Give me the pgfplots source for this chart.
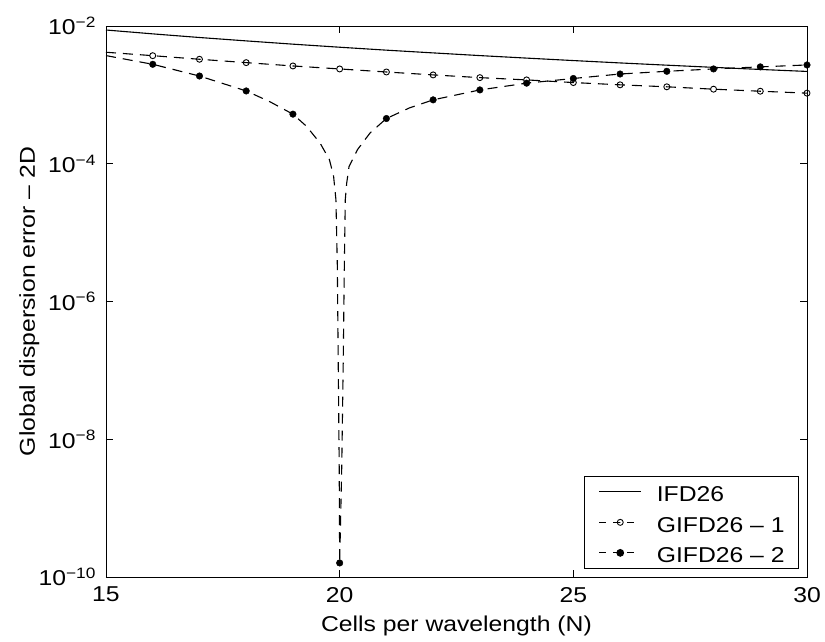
\documentclass[border=0pt]{standalone}
\usepackage{fontspec}
\setmainfont{Liberation Sans}[FakeStretch=1.15]
\usepackage{pgfplots}
\pgfplotsset{compat=1.18}

\begin{document}
\begin{tikzpicture}
\begin{axis}[
  at={(106pt,64pt)}, anchor=south west,
  width=701pt, height=551pt, scale only axis,
  font=\fontsize{21.5}{26}\selectfont,
  xmin=15, xmax=30, ymin=1e-10, ymax=1e-2, ymode=log,
  xtick={15,20,25,30}, xticklabels={15,20,25,30},
  ytick={1e-10,1e-8,1e-6,1e-4,1e-2},
  yticklabels={10\textsuperscript{−10},10\textsuperscript{−8},10\textsuperscript{−6},10\textsuperscript{−4},10\textsuperscript{−2}},
  yminorticks=false,
  tick align=inside, xtick pos=both, ytick pos=both,
  major tick length=7pt,
  tick style={black, line width=0.8pt},
  axis line style={line width=0.9pt},
  xticklabel style={yshift=-6.5pt},
  yticklabel style={xshift=-6.5pt},
  xlabel={Cells per wavelength (N)},
  ylabel={Global dispersion error – 2D},
  xlabel style={at={(axis description cs:0.5,-0.0998)}, anchor=base},
  ylabel style={at={(axis description cs:-0.1013,0.5)}, anchor=base, rotate=0},
  legend image code/.code={\draw[mark repeat=2,mark phase=2,#1] plot coordinates {(0pt,0pt) (21pt,0pt) (42pt,0pt)};},
  legend style={at={(1,0)}, anchor=south east, xshift=-8pt, yshift=8pt,
    draw=black, line width=0.8pt, fill=white,
    inner xsep=14pt, inner ysep=4pt, row sep=7pt, column sep=15pt,
    nodes={inner sep=0pt, text height=21.5pt, text depth=2pt, font=\fontsize{21.5}{26}\selectfont}},
  legend cell align=left,
]
% IFD26
\addplot[black, line width=1.1pt] coordinates {
  (15,8.75e-3) (16,7.69e-3) (17,6.81e-3) (18,6.08e-3) (19,5.45e-3) (20,4.92e-3)
  (21,4.46e-3) (22,4.07e-3) (23,3.72e-3) (24,3.42e-3) (25,3.15e-3) (26,2.91e-3)
  (27,2.70e-3) (28,2.51e-3) (29,2.34e-3) (30,2.19e-3)};
\addlegendentry{IFD26}
\addlegendimage{black, line width=1.1pt, dash pattern=on 7pt off 7pt, mark=o, mark size=3pt, mark options={solid, line width=0.9pt}}
\addlegendentry{GIFD26 – 1}
\addlegendimage{black, line width=1.1pt, dash pattern=on 7pt off 7pt, mark=*, mark size=3.3pt, mark options={solid}}
\addlegendentry{GIFD26 – 2}
% GIFD26 - 1
\addplot[black, line width=1.1pt, dash pattern=on 10pt off 7pt, forget plot] coordinates {
  (15,4.16e-3) (16,3.71e-3) (17,3.29e-3) (18,2.94e-3) (19,2.63e-3) (20,2.38e-3)
  (21,2.15e-3) (22,1.95e-3) (23,1.78e-3) (24,1.65e-3) (25,1.51e-3) (26,1.40e-3)
  (27,1.31e-3) (28,1.21e-3) (29,1.13e-3) (30,1.06e-3)};
\addplot[only marks, mark=o, mark size=3pt, mark options={black, line width=0.9pt}, forget plot] coordinates {
  (16,3.71e-3) (17,3.29e-3) (18,2.94e-3) (19,2.63e-3) (20,2.38e-3)
  (21,2.15e-3) (22,1.95e-3) (23,1.78e-3) (24,1.65e-3) (25,1.51e-3) (26,1.40e-3)
  (27,1.31e-3) (28,1.21e-3) (29,1.13e-3) (30,1.06e-3)};
% GIFD26 - 2
\addplot[black, line width=1.1pt, dash pattern=on 10pt off 7pt, forget plot] coordinates {
  (15,3.72e-3) (16,2.78e-3) (17,1.88e-3) (18,1.14e-3) (18.5,8.0e-4) (19,5.25e-4)
  (19.29,3.5e-4) (19.58,2.0e-4) (19.78,1.15e-4) (19.87,6.6e-5) (19.92,3.0e-5)
  (19.95,3.3e-6) (19.97,1.15e-7) (19.99,4.1e-9) (20,1.6e-10)
  (20.045,4.1e-9) (20.075,1.15e-7) (20.10,3.3e-6) (20.12,3.0e-5) (20.15,5.2e-5)
  (20.20,9.1e-5) (20.38,1.6e-4) (20.65,2.8e-4) (21,4.54e-4) (21.5,6.5e-4)
  (22,8.47e-4) (23,1.18e-3) (24,1.48e-3) (25,1.73e-3) (26,2.01e-3) (27,2.20e-3)
  (28,2.38e-3) (29,2.55e-3) (30,2.72e-3)};
\addplot[only marks, mark=*, mark size=3.3pt, mark options={black}, forget plot] coordinates {
  (16,2.78e-3) (17,1.88e-3) (18,1.14e-3) (19,5.25e-4) (20,1.6e-10)
  (21,4.54e-4) (22,8.47e-4) (23,1.18e-3) (24,1.48e-3) (25,1.73e-3) (26,2.01e-3)
  (27,2.20e-3) (28,2.38e-3) (29,2.55e-3) (30,2.72e-3)};
\end{axis}
\pgfresetboundingbox
\path[use as bounding box] (0,0) rectangle (825pt,641pt);
\end{tikzpicture}
\end{document}
